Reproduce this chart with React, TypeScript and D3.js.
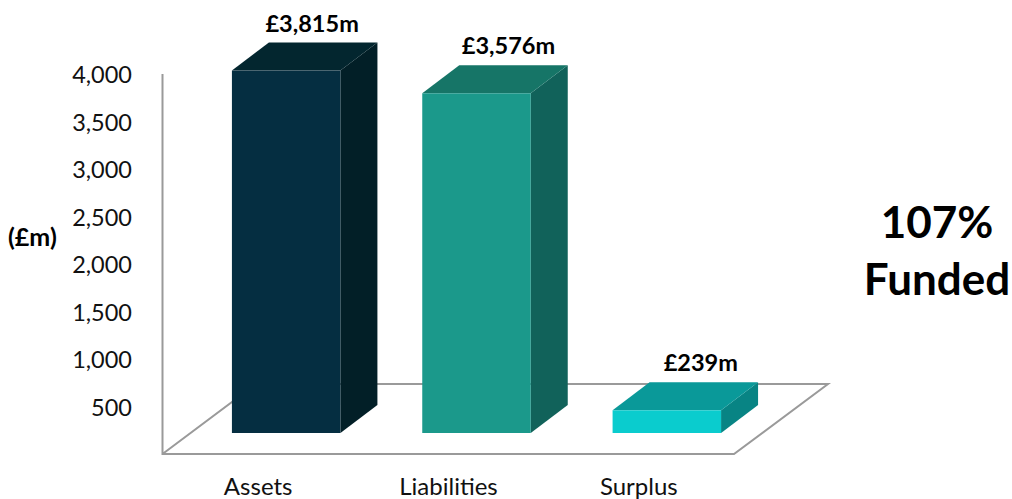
import { useEffect, useRef } from "react";
import * as d3 from "d3";

const categories = ["Assets", "Liabilities", "Surplus"];
const values = [3815, 3576, 239];
const valueLabels = ["£3,815m", "£3,576m", "£239m"];
const yTicks = [500, 1000, 1500, 2000, 2500, 3000, 3500, 4000];
const frontColors = ["#052e41", "#1b998b", "#0accce"];
const topColors = ["#03262f", "#167567", "#0a9999"];
const sideColors = ["#021f27", "#11625a", "#088484"];

const font = "Lato, Carlito, sans-serif";
const w = 1012;
const h = 499;
const depthX = 37;
const depthY = 28;
const barLift = 21;
const labelNudge = [26, 32, 34];

const App = () => {
  const svgRef = useRef<SVGSVGElement>(null);

  useEffect(() => {
    const svg = d3.select(svgRef.current);
    svg.selectAll("*").remove();

    const yScale = d3.scaleLinear().domain([0, 4000]).range([454, 74]);
    const xScale = d3
      .scaleBand()
      .domain(categories)
      .range([191, 762])
      .paddingInner(0.43)
      .paddingOuter(0.215);
    const bw = xScale.bandwidth();

    // floor and wall
    const path = d3.path();
    path.moveTo(162.5, 74);
    path.lineTo(162.5, 454);
    path.lineTo(734, 454);
    path.lineTo(828, 384);
    path.lineTo(256, 384);
    path.lineTo(162.5, 454);
    svg
      .append("path")
      .attr("d", path.toString())
      .attr("fill", "none")
      .attr("stroke", "#9a9a9a")
      .attr("stroke-width", 2);

    // 3d bars
    const bars = svg
      .selectAll("g.bar")
      .data(categories)
      .join("g")
      .attr("class", "bar");
    const x0 = (d: string) => xScale(d) || 0;
    const top = (i: number) => yScale(values[i]) - barLift;
    const base = yScale(0) - barLift;

    bars
      .append("path")
      .attr("fill", (_, i) => sideColors[i])
      .attr("d", (d, i) => {
        const p = d3.path();
        p.moveTo(x0(d) + bw, top(i));
        p.lineTo(x0(d) + bw + depthX, top(i) - depthY);
        p.lineTo(x0(d) + bw + depthX, base - depthY);
        p.lineTo(x0(d) + bw, base);
        p.closePath();
        return p.toString();
      });
    bars
      .append("path")
      .attr("fill", (_, i) => topColors[i])
      .attr("d", (d, i) => {
        const p = d3.path();
        p.moveTo(x0(d), top(i));
        p.lineTo(x0(d) + depthX, top(i) - depthY);
        p.lineTo(x0(d) + bw + depthX, top(i) - depthY);
        p.lineTo(x0(d) + bw, top(i));
        p.closePath();
        return p.toString();
      });
    bars
      .append("rect")
      .attr("x", (d) => x0(d))
      .attr("y", (_, i) => top(i))
      .attr("width", bw)
      .attr("height", (_, i) => base - top(i))
      .attr("fill", (_, i) => frontColors[i]);

    bars
      .append("text")
      .attr("x", (d, i) => x0(d) + bw / 2 + labelNudge[i])
      .attr("y", (_, i) => top(i) - depthY - 11)
      .attr("text-anchor", "middle")
      .attr("font-family", font)
      .attr("font-weight", 700)
      .attr("font-size", 23.5)
      .attr("fill", "#000")
      .text((_, i) => valueLabels[i]);

    // axes
    const yAxis = d3
      .axisLeft(yScale)
      .tickValues(yTicks)
      .tickFormat(d3.format(","))
      .tickSize(0)
      .tickPadding(0);
    const yG = svg.append("g").attr("transform", "translate(132, 1)").call(yAxis);
    yG.select(".domain").remove();
    yG.selectAll("text")
      .attr("font-family", font)
      .attr("font-size", 23.5)
      .attr("fill", "#111");

    const xAxis = d3.axisBottom(xScale).tickSize(0).tickPadding(0);
    const xG = svg.append("g").attr("transform", "translate(-28, 478)").call(xAxis);
    xG.select(".domain").remove();
    xG.selectAll("text")
      .attr("font-family", font)
      .attr("font-size", 24)
      .attr("fill", "#111");

    svg
      .append("text")
      .attr("x", 8)
      .attr("y", 246)
      .attr("font-family", font)
      .attr("font-weight", 700)
      .attr("font-size", 25)
      .text("(£m)");

    svg
      .selectAll("text.funded")
      .data(["107%", "Funded"])
      .join("text")
      .attr("class", "funded")
      .attr("x", 937)
      .attr("y", (_, i) => 238 + i * 57)
      .attr("text-anchor", "middle")
      .attr("font-family", font)
      .attr("font-weight", 700)
      .attr("font-size", 44)
      .attr("fill", "#000")
      .text((d) => d);
  }, []);

  return (
    <svg
      ref={svgRef}
      width={w}
      height={h}
      style={{ position: "absolute", left: 0, top: 0, background: "#fff" }}
    />
  );
};

export default App;
